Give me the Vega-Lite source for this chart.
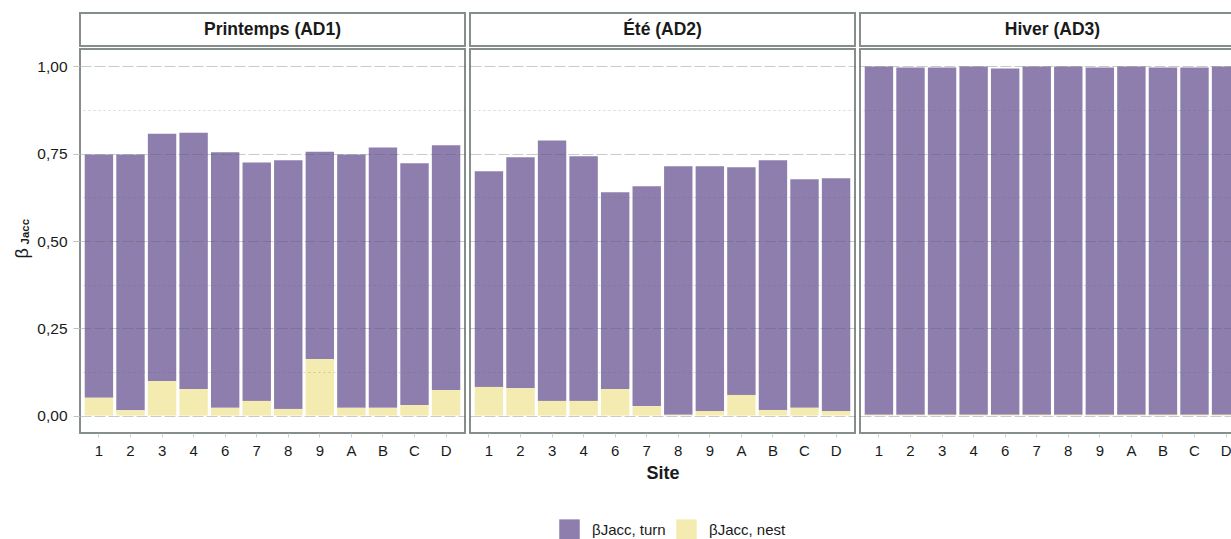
{
  "$schema": "https://vega.github.io/schema/vega-lite/v6.json",
  "padding": {"left": 12, "top": 12, "right": 0, "bottom": 0},
  "background": "white",
  "datasets": {
    "panneaux": [
      {"saison": "Printemps (AD1)"},
      {"saison": "Été (AD2)"},
      {"saison": "Hiver (AD3)"}
    ],
    "barres": [
      {"saison": "Printemps (AD1)", "site": "1", "composante": "βJacc, turn", "valeur": 0.697},
      {"saison": "Printemps (AD1)", "site": "1", "composante": "βJacc, nest", "valeur": 0.051},
      {"saison": "Printemps (AD1)", "site": "2", "composante": "βJacc, turn", "valeur": 0.733},
      {"saison": "Printemps (AD1)", "site": "2", "composante": "βJacc, nest", "valeur": 0.015},
      {"saison": "Printemps (AD1)", "site": "3", "composante": "βJacc, turn", "valeur": 0.708},
      {"saison": "Printemps (AD1)", "site": "3", "composante": "βJacc, nest", "valeur": 0.099},
      {"saison": "Printemps (AD1)", "site": "4", "composante": "βJacc, turn", "valeur": 0.734},
      {"saison": "Printemps (AD1)", "site": "4", "composante": "βJacc, nest", "valeur": 0.076},
      {"saison": "Printemps (AD1)", "site": "6", "composante": "βJacc, turn", "valeur": 0.732},
      {"saison": "Printemps (AD1)", "site": "6", "composante": "βJacc, nest", "valeur": 0.022},
      {"saison": "Printemps (AD1)", "site": "7", "composante": "βJacc, turn", "valeur": 0.683},
      {"saison": "Printemps (AD1)", "site": "7", "composante": "βJacc, nest", "valeur": 0.042},
      {"saison": "Printemps (AD1)", "site": "8", "composante": "βJacc, turn", "valeur": 0.712},
      {"saison": "Printemps (AD1)", "site": "8", "composante": "βJacc, nest", "valeur": 0.019},
      {"saison": "Printemps (AD1)", "site": "9", "composante": "βJacc, turn", "valeur": 0.594},
      {"saison": "Printemps (AD1)", "site": "9", "composante": "βJacc, nest", "valeur": 0.162},
      {"saison": "Printemps (AD1)", "site": "A", "composante": "βJacc, turn", "valeur": 0.726},
      {"saison": "Printemps (AD1)", "site": "A", "composante": "βJacc, nest", "valeur": 0.022},
      {"saison": "Printemps (AD1)", "site": "B", "composante": "βJacc, turn", "valeur": 0.746},
      {"saison": "Printemps (AD1)", "site": "B", "composante": "βJacc, nest", "valeur": 0.022},
      {"saison": "Printemps (AD1)", "site": "C", "composante": "βJacc, turn", "valeur": 0.693},
      {"saison": "Printemps (AD1)", "site": "C", "composante": "βJacc, nest", "valeur": 0.030},
      {"saison": "Printemps (AD1)", "site": "D", "composante": "βJacc, turn", "valeur": 0.701},
      {"saison": "Printemps (AD1)", "site": "D", "composante": "βJacc, nest", "valeur": 0.073},
      {"saison": "Été (AD2)", "site": "1", "composante": "βJacc, turn", "valeur": 0.618},
      {"saison": "Été (AD2)", "site": "1", "composante": "βJacc, nest", "valeur": 0.082},
      {"saison": "Été (AD2)", "site": "2", "composante": "βJacc, turn", "valeur": 0.662},
      {"saison": "Été (AD2)", "site": "2", "composante": "βJacc, nest", "valeur": 0.078},
      {"saison": "Été (AD2)", "site": "3", "composante": "βJacc, turn", "valeur": 0.746},
      {"saison": "Été (AD2)", "site": "3", "composante": "βJacc, nest", "valeur": 0.042},
      {"saison": "Été (AD2)", "site": "4", "composante": "βJacc, turn", "valeur": 0.701},
      {"saison": "Été (AD2)", "site": "4", "composante": "βJacc, nest", "valeur": 0.042},
      {"saison": "Été (AD2)", "site": "6", "composante": "βJacc, turn", "valeur": 0.564},
      {"saison": "Été (AD2)", "site": "6", "composante": "βJacc, nest", "valeur": 0.076},
      {"saison": "Été (AD2)", "site": "7", "composante": "βJacc, turn", "valeur": 0.630},
      {"saison": "Été (AD2)", "site": "7", "composante": "βJacc, nest", "valeur": 0.027},
      {"saison": "Été (AD2)", "site": "8", "composante": "βJacc, turn", "valeur": 0.712},
      {"saison": "Été (AD2)", "site": "8", "composante": "βJacc, nest", "valeur": 0.002},
      {"saison": "Été (AD2)", "site": "9", "composante": "βJacc, turn", "valeur": 0.701},
      {"saison": "Été (AD2)", "site": "9", "composante": "βJacc, nest", "valeur": 0.013},
      {"saison": "Été (AD2)", "site": "A", "composante": "βJacc, turn", "valeur": 0.652},
      {"saison": "Été (AD2)", "site": "A", "composante": "βJacc, nest", "valeur": 0.059},
      {"saison": "Été (AD2)", "site": "B", "composante": "βJacc, turn", "valeur": 0.715},
      {"saison": "Été (AD2)", "site": "B", "composante": "βJacc, nest", "valeur": 0.016},
      {"saison": "Été (AD2)", "site": "C", "composante": "βJacc, turn", "valeur": 0.655},
      {"saison": "Été (AD2)", "site": "C", "composante": "βJacc, nest", "valeur": 0.022},
      {"saison": "Été (AD2)", "site": "D", "composante": "βJacc, turn", "valeur": 0.667},
      {"saison": "Été (AD2)", "site": "D", "composante": "βJacc, nest", "valeur": 0.013},
      {"saison": "Hiver (AD3)", "site": "1", "composante": "βJacc, turn", "valeur": 0.998},
      {"saison": "Hiver (AD3)", "site": "1", "composante": "βJacc, nest", "valeur": 0.002},
      {"saison": "Hiver (AD3)", "site": "2", "composante": "βJacc, turn", "valeur": 0.995},
      {"saison": "Hiver (AD3)", "site": "2", "composante": "βJacc, nest", "valeur": 0.002},
      {"saison": "Hiver (AD3)", "site": "3", "composante": "βJacc, turn", "valeur": 0.995},
      {"saison": "Hiver (AD3)", "site": "3", "composante": "βJacc, nest", "valeur": 0.002},
      {"saison": "Hiver (AD3)", "site": "4", "composante": "βJacc, turn", "valeur": 0.998},
      {"saison": "Hiver (AD3)", "site": "4", "composante": "βJacc, nest", "valeur": 0.002},
      {"saison": "Hiver (AD3)", "site": "6", "composante": "βJacc, turn", "valeur": 0.992},
      {"saison": "Hiver (AD3)", "site": "6", "composante": "βJacc, nest", "valeur": 0.002},
      {"saison": "Hiver (AD3)", "site": "7", "composante": "βJacc, turn", "valeur": 0.998},
      {"saison": "Hiver (AD3)", "site": "7", "composante": "βJacc, nest", "valeur": 0.002},
      {"saison": "Hiver (AD3)", "site": "8", "composante": "βJacc, turn", "valeur": 0.998},
      {"saison": "Hiver (AD3)", "site": "8", "composante": "βJacc, nest", "valeur": 0.002},
      {"saison": "Hiver (AD3)", "site": "9", "composante": "βJacc, turn", "valeur": 0.995},
      {"saison": "Hiver (AD3)", "site": "9", "composante": "βJacc, nest", "valeur": 0.002},
      {"saison": "Hiver (AD3)", "site": "A", "composante": "βJacc, turn", "valeur": 0.998},
      {"saison": "Hiver (AD3)", "site": "A", "composante": "βJacc, nest", "valeur": 0.002},
      {"saison": "Hiver (AD3)", "site": "B", "composante": "βJacc, turn", "valeur": 0.995},
      {"saison": "Hiver (AD3)", "site": "B", "composante": "βJacc, nest", "valeur": 0.002},
      {"saison": "Hiver (AD3)", "site": "C", "composante": "βJacc, turn", "valeur": 0.995},
      {"saison": "Hiver (AD3)", "site": "C", "composante": "βJacc, nest", "valeur": 0.002},
      {"saison": "Hiver (AD3)", "site": "D", "composante": "βJacc, turn", "valeur": 0.998},
      {"saison": "Hiver (AD3)", "site": "D", "composante": "βJacc, nest", "valeur": 0.002}
    ]
  },
  "hconcat": [
    {
      "vconcat": [
        {
          "width": 385, "height": 33,
          "data": {"name": "panneaux"},
          "transform": [{"filter": "datum.saison === 'Printemps (AD1)'"}],
          "mark": {"type": "text", "fontWeight": "bold", "fontSize": 17.5, "color": "#1a1a1a"},
          "encoding": {"x": {"field": "saison", "type": "nominal", "axis": null}, "text": {"field": "saison", "type": "nominal"}}
        },
        {
          "width": 385, "height": 384,
          "data": {"name": "barres"},
          "transform": [{"filter": "datum.saison === 'Printemps (AD1)'"}],
          "layer": [
            {
              "mark": {"type": "bar"},
              "encoding": {
                "x": {"field": "site", "type": "nominal", "sort": ["1","2","3","4","6","7","8","9","A","B","C","D"], "scale": {"paddingInner": 0.1, "paddingOuter": 0.15}, "axis": {"title": null}},
                "y": {"field": "valeur", "type": "quantitative", "stack": "zero", "scale": {"domain": [-0.05, 1.05], "nice": false, "zero": false},
                  "axis": {"title": "β", "titleFontSize": 18, "titleFontWeight": "normal", "titleColor": "#1a1a1a", "titleAngle": 270, "titleAlign": "left", "titleBaseline": "alphabetic", "titleX": -53, "titleY": 209, "orient": "left", "values": [0, 0.25, 0.5, 0.75, 1], "format": ".2f", "labelExpr": "replace(datum.label, '.', ',')", "ticks": true, "tickSize": 7, "tickColor": "#b9c4c0", "labelPadding": 6, "labelFontSize": 15.5, "labelColor": "#1a1a1a", "domain": false, "grid": true, "gridColor": "#4a6b62", "gridOpacity": 0.33, "gridDash": [11, 3], "zindex": 1}},
                "color": {"field": "composante", "type": "nominal", "scale": {"domain": ["βJacc, turn", "βJacc, nest"], "range": ["#8e7ead", "#f4ebb0"]},
                  "legend": {"title": null, "orient": "none", "legendX": 479, "legendY": 506, "direction": "horizontal", "symbolType": "square", "symbolSize": 420, "symbolStrokeWidth": 0, "symbolOpacity": 1, "labelFontSize": 15, "labelColor": "#1a1a1a", "columnPadding": 10, "labelOffset": 12}},
                "order": {"field": "composante", "type": "nominal", "sort": "ascending"}
              }
            },
            {
              "mark": {"type": "rule", "opacity": 0},
              "encoding": {
                "y": {"field": "valeur", "type": "quantitative", "scale": {"domain": [-0.05, 1.05], "nice": false, "zero": false},
                  "axis": {"title": "Jacc", "titleFontSize": 11.5, "titleFontWeight": "bold", "titleColor": "#1a1a1a", "titleAngle": 270, "titleAlign": "left", "titleBaseline": "alphabetic", "titleX": -437, "titleY": 195, "orient": "right", "values": [0.125, 0.375, 0.625, 0.875], "labels": false, "ticks": false, "domain": false, "grid": true, "gridColor": "#4a6b62", "gridOpacity": 0.25, "gridDash": [2, 3], "zindex": 1}}
              }
            }
          ],
          "resolve": {"axis": {"y": "independent"}}
        }
      ],
      "spacing": 1
    },
    {
      "vconcat": [
        {
          "width": 385, "height": 33,
          "data": {"name": "panneaux"},
          "transform": [{"filter": "datum.saison === 'Été (AD2)'"}],
          "mark": {"type": "text", "fontWeight": "bold", "fontSize": 17.5, "color": "#1a1a1a"},
          "encoding": {"x": {"field": "saison", "type": "nominal", "axis": null}, "text": {"field": "saison", "type": "nominal"}}
        },
        {
          "width": 385, "height": 384,
          "data": {"name": "barres"},
          "transform": [{"filter": "datum.saison === 'Été (AD2)'"}],
          "layer": [
            {
              "mark": {"type": "bar"},
              "encoding": {
                "x": {"field": "site", "type": "nominal", "sort": ["1","2","3","4","6","7","8","9","A","B","C","D"], "scale": {"paddingInner": 0.1, "paddingOuter": 0.15}, "axis": {"title": "Site"}},
                "y": {"field": "valeur", "type": "quantitative", "stack": "zero", "scale": {"domain": [-0.05, 1.05], "nice": false, "zero": false},
                  "axis": {"title": null, "orient": "left", "values": [0, 0.25, 0.5, 0.75, 1], "labels": false, "ticks": false, "domain": false, "grid": true, "gridColor": "#4a6b62", "gridOpacity": 0.33, "gridDash": [11, 3], "zindex": 1}},
                "color": {"field": "composante", "type": "nominal", "scale": {"domain": ["βJacc, turn", "βJacc, nest"], "range": ["#8e7ead", "#f4ebb0"]}},
                "order": {"field": "composante", "type": "nominal", "sort": "ascending"}
              }
            },
            {
              "mark": {"type": "rule", "opacity": 0},
              "encoding": {
                "y": {"field": "valeur", "type": "quantitative", "scale": {"domain": [-0.05, 1.05], "nice": false, "zero": false},
                  "axis": {"title": null, "orient": "right", "values": [0.125, 0.375, 0.625, 0.875], "labels": false, "ticks": false, "domain": false, "grid": true, "gridColor": "#4a6b62", "gridOpacity": 0.25, "gridDash": [2, 3], "zindex": 1}}
              }
            }
          ],
          "resolve": {"axis": {"y": "independent"}}
        }
      ],
      "spacing": 1
    },
    {
      "vconcat": [
        {
          "width": 385, "height": 33,
          "data": {"name": "panneaux"},
          "transform": [{"filter": "datum.saison === 'Hiver (AD3)'"}],
          "mark": {"type": "text", "fontWeight": "bold", "fontSize": 17.5, "color": "#1a1a1a"},
          "encoding": {"x": {"field": "saison", "type": "nominal", "axis": null}, "text": {"field": "saison", "type": "nominal"}}
        },
        {
          "width": 385, "height": 384,
          "data": {"name": "barres"},
          "transform": [{"filter": "datum.saison === 'Hiver (AD3)'"}],
          "layer": [
            {
              "mark": {"type": "bar"},
              "encoding": {
                "x": {"field": "site", "type": "nominal", "sort": ["1","2","3","4","6","7","8","9","A","B","C","D"], "scale": {"paddingInner": 0.1, "paddingOuter": 0.15}, "axis": {"title": null}},
                "y": {"field": "valeur", "type": "quantitative", "stack": "zero", "scale": {"domain": [-0.05, 1.05], "nice": false, "zero": false},
                  "axis": {"title": null, "orient": "left", "values": [0, 0.25, 0.5, 0.75, 1], "labels": false, "ticks": false, "domain": false, "grid": true, "gridColor": "#4a6b62", "gridOpacity": 0.33, "gridDash": [11, 3], "zindex": 1}},
                "color": {"field": "composante", "type": "nominal", "scale": {"domain": ["βJacc, turn", "βJacc, nest"], "range": ["#8e7ead", "#f4ebb0"]}},
                "order": {"field": "composante", "type": "nominal", "sort": "ascending"}
              }
            },
            {
              "mark": {"type": "rule", "opacity": 0},
              "encoding": {
                "y": {"field": "valeur", "type": "quantitative", "scale": {"domain": [-0.05, 1.05], "nice": false, "zero": false},
                  "axis": {"title": null, "orient": "right", "values": [0.125, 0.375, 0.625, 0.875], "labels": false, "ticks": false, "domain": false, "grid": true, "gridColor": "#4a6b62", "gridOpacity": 0.25, "gridDash": [2, 3], "zindex": 1}}
              }
            }
          ],
          "resolve": {"axis": {"y": "independent"}}
        }
      ],
      "spacing": 1
    }
  ],
  "spacing": 3,
  "config": {
    "font": "Liberation Sans",
    "view": {"stroke": "#858e8a", "strokeWidth": 2},
    "axisX": {"labelAngle": 0, "labelFontSize": 15, "labelColor": "#1a1a1a", "labelPadding": 6, "tickSize": 4, "tickColor": "#c9d1ce", "domain": false, "grid": false, "titleFontSize": 18, "titleFontWeight": "bold", "titleColor": "#1a1a1a", "titlePadding": 6}
  }
}
